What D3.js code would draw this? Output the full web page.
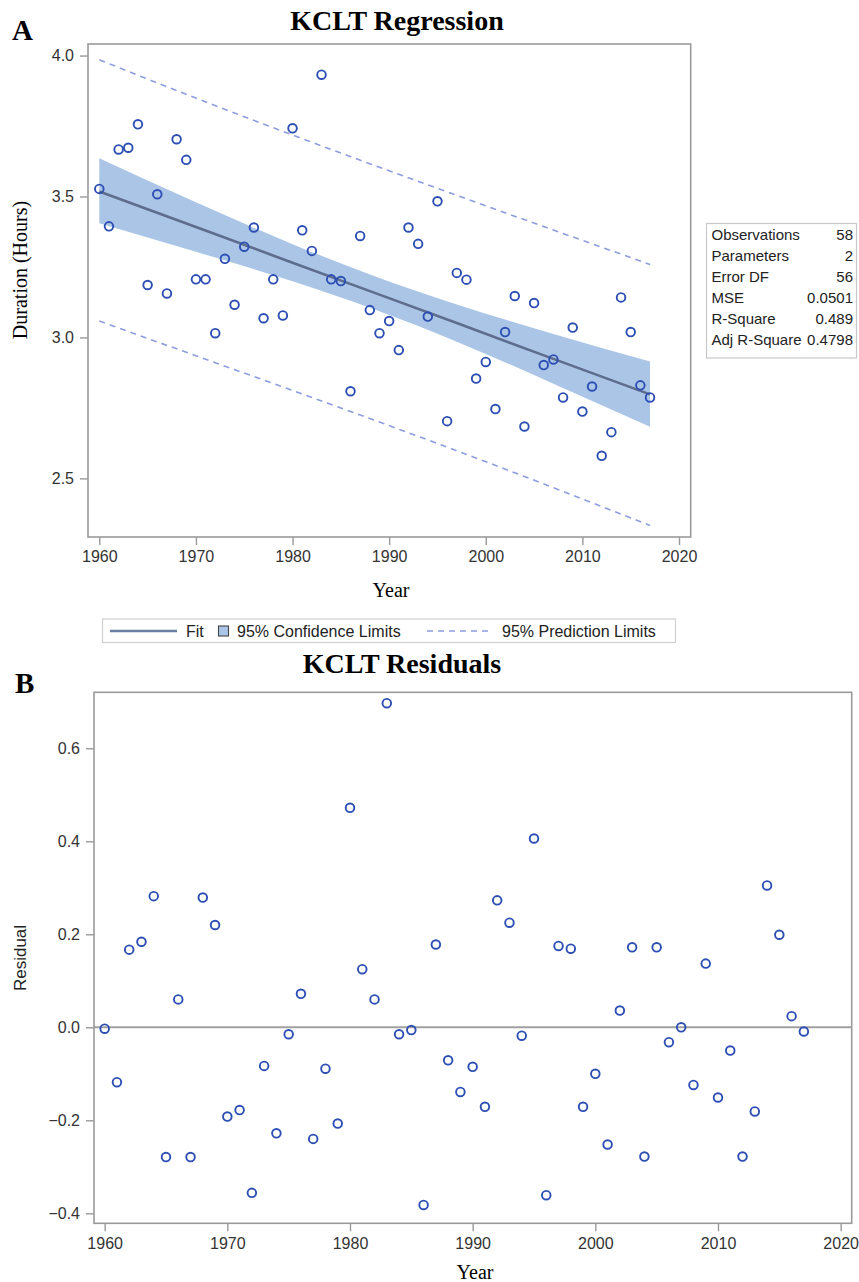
<!DOCTYPE html>
<html>
<head>
<meta charset="utf-8">
<script src="https://cdn.jsdelivr.net/npm/d3@7"></script>
<style>
  body { margin: 0; background: #fff; }
  svg { display: block; }
</style>
</head>
<body>
<div id="chart"></div>
<script>
const years = [1960, 1961, 1962, 1963, 1964, 1965, 1966, 1967, 1968, 1969,
  1970, 1971, 1972, 1973, 1974, 1975, 1976, 1977, 1978, 1979,
  1980, 1981, 1982, 1983, 1984, 1985, 1986, 1987, 1988, 1989,
  1990, 1991, 1992, 1993, 1994, 1995, 1996, 1997, 1998, 1999,
  2000, 2001, 2002, 2003, 2004, 2005, 2006, 2007, 2008, 2009,
  2010, 2011, 2012, 2013, 2014, 2015, 2016, 2017];

const duration = [3.527, 3.394, 3.667, 3.673, 3.756, 3.186, 3.508, 3.156, 3.703, 3.630,
  3.206, 3.206, 3.015, 3.279, 3.116, 3.322, 3.390, 3.068, 3.206, 3.078,
  3.742, 3.380, 3.307, 3.932, 3.206, 3.200, 2.809, 3.360, 3.097, 3.015,
  3.058, 2.955, 3.390, 3.332, 3.074, 3.483, 2.703, 3.229, 3.205, 2.854,
  2.913, 2.746, 3.019, 3.147, 2.684, 3.122, 2.902, 2.922, 2.787, 3.035,
  2.737, 2.826, 2.580, 2.664, 3.142, 3.019, 2.830, 2.787];

const residual = [-0.003, -0.118, 0.167, 0.184, 0.282, -0.279, 0.060, -0.279, 0.279, 0.220,
  -0.192, -0.178, -0.356, -0.083, -0.228, -0.015, 0.072, -0.240, -0.089, -0.207,
  0.472, 0.125, 0.060, 0.697, -0.015, -0.006, -0.382, 0.178, -0.071, -0.139,
  -0.085, -0.171, 0.273, 0.225, -0.018, 0.406, -0.361, 0.175, 0.169, -0.171,
  -0.100, -0.252, 0.036, 0.172, -0.278, 0.172, -0.032, 0.000, -0.124, 0.137,
  -0.151, -0.050, -0.278, -0.181, 0.305, 0.199, 0.024, -0.009];

// fit line and limits, read at a few years
const bandYears = [1960, 1970, 1980, 1988.5, 1997, 2007, 2017];
const fitValues = [3.518, 3.392, 3.265, 3.158, 3.051, 2.924, 2.798];
const clmUpper = [3.636, 3.480, 3.331, 3.217, 3.117, 3.012, 2.915];
const clmLower = [3.405, 3.304, 3.199, 3.099, 2.985, 2.836, 2.683];
const plmUpper = [3.985, 3.849, 3.718, 3.610, 3.504, 3.381, 3.259];
const plmLower = [3.058, 2.935, 2.812, 2.706, 2.598, 2.467, 2.333];

const yearTicks = [1960, 1970, 1980, 1990, 2000, 2010, 2020];
const durationTicks = [2.5, 3.0, 3.5, 4.0];
const residualTicks = [-0.4, -0.2, 0.0, 0.2, 0.4, 0.6];

const statLabels = ['Observations', 'Parameters', 'Error DF', 'MSE', 'R-Square', 'Adj R-Square'];
const statValues = ['58', '2', '56', '0.0501', '0.489', '0.4798'];

const legendLabels = ['Fit', '95% Confidence Limits', '95% Prediction Limits'];

const W = 859, H = 1282;
const SANS = '"Liberation Sans", Arial, sans-serif';
const SERIF = '"Liberation Serif", "Times New Roman", serif';
const markerColor = '#2d4fb4';
const frameColor = '#9a9a9a';
const tickTextColor = '#333';

const svg = d3.select('#chart').append('svg')
  .attr('width', W).attr('height', H)
  .attr('viewBox', `0 0 ${W} ${H}`);
svg.append('rect').attr('width', W).attr('height', H).attr('fill', '#fff');

function drawFrame(g, box) {
  g.append('rect')
    .attr('x', box.left).attr('y', box.top)
    .attr('width', box.right - box.left).attr('height', box.bottom - box.top)
    .attr('fill', 'none').attr('stroke', frameColor).attr('stroke-width', 1.6);
}

function styleAxis(axisG) {
  axisG.select('.domain').remove();
  axisG.selectAll('.tick line').attr('stroke', frameColor).attr('stroke-width', 1.4);
  axisG.selectAll('.tick text')
    .attr('fill', tickTextColor)
    .attr('font-family', SANS)
    .attr('font-size', 16);
}

// ---------- Panel A ----------
const boxA = { left: 88, right: 690.7, top: 44, bottom: 537 };
const xA = d3.scaleLinear().domain([1958.83, 2021.21]).range([boxA.left, boxA.right]);
const yA = d3.scaleLinear().domain([2.292, 4.041]).range([boxA.bottom, boxA.top]);

const gA = svg.append('g');

svg.append('text').attr('x', 12).attr('y', 40)
  .attr('font-family', SERIF).attr('font-weight', 'bold').attr('font-size', 29)
  .text('A');
svg.append('text').attr('x', 397).attr('y', 30)
  .attr('text-anchor', 'middle')
  .attr('font-family', SERIF).attr('font-weight', 'bold').attr('font-size', 28)
  .text('KCLT Regression');

const bandData = bandYears.map((yr, i) => ({
  yr, fit: fitValues[i], lo: clmLower[i], hi: clmUpper[i], plo: plmLower[i], phi: plmUpper[i]
}));

gA.append('path')
  .datum(bandData)
  .attr('fill', '#abc5e7')
  .attr('d', d3.area().curve(d3.curveMonotoneX)
    .x(d => xA(d.yr)).y0(d => yA(d.lo)).y1(d => yA(d.hi)));

['plo', 'phi'].forEach(key => {
  gA.append('path')
    .datum(bandData)
    .attr('fill', 'none')
    .attr('stroke', '#8e9de0')
    .attr('stroke-width', 1.6)
    .attr('stroke-dasharray', '6,5')
    .attr('d', d3.line().curve(d3.curveMonotoneX).x(d => xA(d.yr)).y(d => yA(d[key])));
});

gA.append('path')
  .datum(bandData)
  .attr('fill', 'none')
  .attr('stroke', '#5e6d8c')
  .attr('stroke-width', 2.6)
  .attr('d', d3.line().x(d => xA(d.yr)).y(d => yA(d.fit)));

gA.selectAll('circle.pt')
  .data(years.map((yr, i) => ({ yr, v: duration[i] })))
  .join('circle')
  .attr('class', 'pt')
  .attr('cx', d => xA(d.yr)).attr('cy', d => yA(d.v))
  .attr('r', 4.3)
  .attr('fill', 'none').attr('stroke', markerColor).attr('stroke-width', 1.9);

drawFrame(gA, boxA);

const axA_x = svg.append('g').attr('transform', `translate(0,${boxA.bottom})`)
  .call(d3.axisBottom(xA).tickValues(yearTicks).tickFormat(d3.format('d')).tickSizeOuter(0).tickSize(8).tickPadding(6));
styleAxis(axA_x);
const axA_y = svg.append('g').attr('transform', `translate(${boxA.left},0)`)
  .call(d3.axisLeft(yA).tickValues(durationTicks).tickFormat(d3.format('.1f')).tickSizeOuter(0).tickSize(8).tickPadding(6));
styleAxis(axA_y);

svg.append('text').attr('x', 391).attr('y', 597)
  .attr('text-anchor', 'middle').attr('font-family', SERIF).attr('font-size', 20)
  .text('Year');
svg.append('text').attr('transform', 'translate(27,270) rotate(-90)')
  .attr('text-anchor', 'middle').attr('font-family', SERIF).attr('font-size', 20)
  .text('Duration (Hours)');

// stats table
const tbl = svg.append('g');
tbl.append('rect').attr('x', 706.5).attr('y', 223.5).attr('width', 150).attr('height', 134.5)
  .attr('fill', '#fff').attr('stroke', '#c8c8c8').attr('stroke-width', 1.2);
statLabels.forEach((lab, i) => {
  const y = 239.5 + i * 21;
  tbl.append('text').attr('x', 711.5).attr('y', y)
    .attr('font-family', SANS).attr('font-size', 15).attr('fill', '#222').text(lab);
  tbl.append('text').attr('x', 853).attr('y', y).attr('text-anchor', 'end')
    .attr('font-family', SANS).attr('font-size', 15).attr('fill', '#222').text(statValues[i]);
});

// legend
const lg = svg.append('g');
lg.append('rect').attr('x', 102.5).attr('y', 619).attr('width', 573).attr('height', 23.5)
  .attr('fill', '#fff').attr('stroke', '#cfcfcf').attr('stroke-width', 1.2);
const legY = 631;
lg.append('line').attr('x1', 110).attr('x2', 177).attr('y1', legY).attr('y2', legY)
  .attr('stroke', '#6b7da3').attr('stroke-width', 2.6);
lg.append('text').attr('x', 186).attr('y', legY + 5.5)
  .attr('font-family', SANS).attr('font-size', 16).attr('fill', '#222').text(legendLabels[0]);
lg.append('rect').attr('x', 218.5).attr('y', legY - 5).attr('width', 10).attr('height', 10)
  .attr('fill', '#abc5e7').attr('stroke', '#444').attr('stroke-width', 1.1);
lg.append('text').attr('x', 237).attr('y', legY + 5.5)
  .attr('font-family', SANS).attr('font-size', 16).attr('fill', '#222').text(legendLabels[1]);
lg.append('line').attr('x1', 427).attr('x2', 490).attr('y1', legY).attr('y2', legY)
  .attr('stroke', '#8e9de0').attr('stroke-width', 1.6).attr('stroke-dasharray', '6,5');
lg.append('text').attr('x', 502).attr('y', legY + 5.5)
  .attr('font-family', SANS).attr('font-size', 16).attr('fill', '#222').text(legendLabels[2]);

// ---------- Panel B ----------
const boxB = { left: 94, right: 851.7, top: 692.3, bottom: 1223.3 };
const xB = d3.scaleLinear().domain([1959.13, 2020.9]).range([boxB.left, boxB.right]);
const yB = d3.scaleLinear().domain([-0.4215, 0.7204]).range([boxB.bottom, boxB.top]);

svg.append('text').attr('x', 15).attr('y', 693)
  .attr('font-family', SERIF).attr('font-weight', 'bold').attr('font-size', 29)
  .text('B');
svg.append('text').attr('x', 402).attr('y', 673)
  .attr('text-anchor', 'middle')
  .attr('font-family', SERIF).attr('font-weight', 'bold').attr('font-size', 28)
  .text('KCLT Residuals');

const gB = svg.append('g');
gB.append('line')
  .attr('x1', boxB.left).attr('x2', boxB.right)
  .attr('y1', yB(0)).attr('y2', yB(0))
  .attr('stroke', '#a0a0a0').attr('stroke-width', 2);

gB.selectAll('circle.pt')
  .data(years.map((yr, i) => ({ yr, v: residual[i] })))
  .join('circle')
  .attr('class', 'pt')
  .attr('cx', d => xB(d.yr)).attr('cy', d => yB(d.v))
  .attr('r', 4.3)
  .attr('fill', 'none').attr('stroke', markerColor).attr('stroke-width', 1.9);

drawFrame(gB, boxB);

const axB_x = svg.append('g').attr('transform', `translate(0,${boxB.bottom})`)
  .call(d3.axisBottom(xB).tickValues(yearTicks).tickFormat(d3.format('d')).tickSizeOuter(0).tickSize(8).tickPadding(6));
styleAxis(axB_x);
const axB_y = svg.append('g').attr('transform', `translate(${boxB.left},0)`)
  .call(d3.axisLeft(yB).tickValues(residualTicks).tickFormat(d3.format('.1f')).tickSizeOuter(0).tickSize(8).tickPadding(6));
styleAxis(axB_y);

svg.append('text').attr('x', 475).attr('y', 1279)
  .attr('text-anchor', 'middle').attr('font-family', SERIF).attr('font-size', 20)
  .text('Year');
svg.append('text').attr('transform', 'translate(26,958) rotate(-90)')
  .attr('text-anchor', 'middle').attr('font-family', SANS).attr('font-size', 17)
  .attr('fill', '#222')
  .text('Residual');
</script>
</body>
</html>
